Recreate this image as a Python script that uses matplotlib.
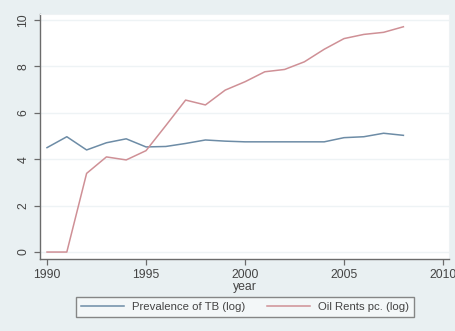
import matplotlib
matplotlib.use("Agg")
import matplotlib.pyplot as plt

plt.rcParams['font.family'] = ['Liberation Sans', 'DejaVu Sans']

years = [1990, 1991, 1992, 1993, 1994, 1995, 1996, 1997, 1998, 1999,
         2000, 2001, 2002, 2003, 2004, 2005, 2006, 2007, 2008]
tb_prevalence_log = [4.50, 4.97, 4.40, 4.71, 4.88, 4.53, 4.55, 4.68, 4.83, 4.78,
                     4.75, 4.75, 4.75, 4.75, 4.75, 4.93, 4.97, 5.12, 5.03]
oil_rents_log = [0.0, 0.0, 3.39, 4.10, 3.97, 4.37, 5.45, 6.55, 6.34, 6.98,
                 7.34, 7.77, 7.87, 8.20, 8.74, 9.20, 9.38, 9.47, 9.71]

x_ticks = [1990, 1995, 2000, 2005, 2010]
y_ticks = [0, 2, 4, 6, 8, 10]
series_labels = ["Prevalence of TB (log)", "Oil Rents pc. (log)"]

bg = "#e9f0f2"
fig = plt.figure(figsize=(4.56, 3.31), dpi=100, facecolor=bg)
ax = fig.add_axes([40/456, 1-259/331, 409/456, 245/331])
ax.set_facecolor("white")

l1, = ax.plot(years, tb_prevalence_log, color="#6d8ca6", lw=1.1)
l2, = ax.plot(years, oil_rents_log, color="#cf9096", lw=1.1)

ax.set_xlim(1989.646, 2010.303)
ax.set_ylim(-0.30, 10.26)
ax.set_xticks(x_ticks)
ax.set_yticks(y_ticks)
ax.set_yticklabels([str(v) for v in y_ticks], rotation=90, va="center")
for y in y_ticks:
    ax.axhline(y, color="#eef3f5", lw=1.0, zorder=0)

for s in ["top", "right"]:
    ax.spines[s].set_color("#eef2f4")
for s in ["left", "bottom"]:
    ax.spines[s].set_color("#6b6b6b")
    ax.spines[s].set_linewidth(1.0)
ax.tick_params(colors="#6b6b6b", labelcolor="#444444", labelsize=8.8,
               length=4, width=0.9)
ax.set_xlabel("year", fontsize=8.8, color="#444444", labelpad=0)

leg = fig.legend([l1, l2], series_labels, loc="center",
                 bbox_to_anchor=(245/456, 1-307/331), ncol=2,
                 fontsize=8.2, frameon=True, fancybox=False,
                 handlelength=3.8, handletextpad=0.7,
                 columnspacing=1.9, borderpad=0.45)
leg.get_frame().set_edgecolor("#6b6b6b")
leg.get_frame().set_facecolor("#f6f9fa")
leg.get_frame().set_linewidth(1.0)
for t in leg.get_texts():
    t.set_color("#444444")

fig.savefig("out.png", dpi=100, facecolor=bg)
